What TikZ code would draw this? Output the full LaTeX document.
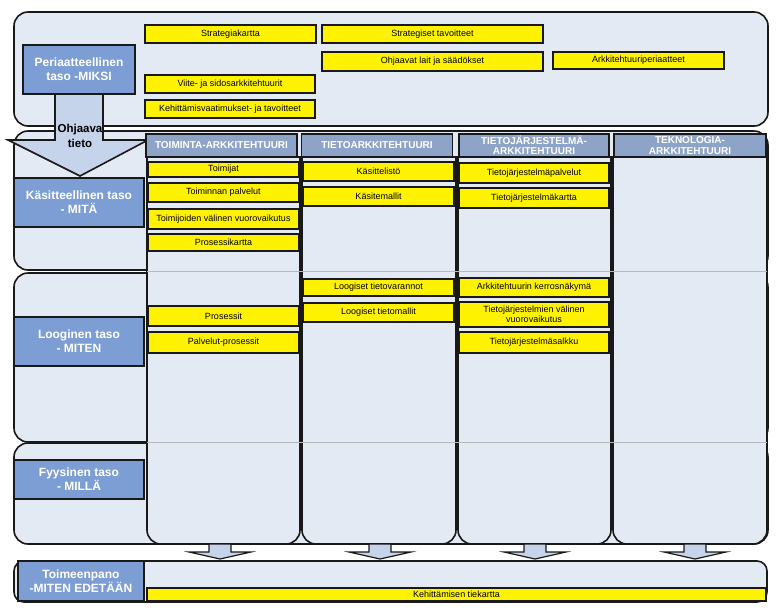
\documentclass[tikz,border=0pt]{standalone}
\usepackage{fontspec}
\setmainfont{Liberation Sans}
\definecolor{bandfill}{RGB}{227,234,244}
\definecolor{levelblue}{RGB}{124,158,212}
\definecolor{headblue}{RGB}{141,163,199}
\definecolor{arrowfill}{RGB}{197,212,234}
\definecolor{edge}{RGB}{25,25,25}
\tikzset{
  band/.style={draw=edge,line width=1.6pt,fill=bandfill,rounded corners=14pt},
  colbody/.style={draw=edge,line width=1.6pt,fill=bandfill},
  level/.style={draw=edge,line width=1.6pt,fill=levelblue,text=white,align=center,inner sep=0pt,
    font=\bfseries\fontsize{12}{14}\selectfont},
  colhead/.style={draw=edge,line width=1.4pt,fill=headblue,text=white,align=center,inner sep=0pt,
    minimum height=23,font=\bfseries\fontsize{10}{10.5}\selectfont},
  ybox/.style={draw=edge,line width=1.6pt,fill=yellow,align=center,inner sep=0pt,
    font=\fontsize{9}{10}\selectfont},
}
\begin{document}
\begin{tikzpicture}[x=1pt,y=-1pt]
\useasboundingbox (0,0) rectangle (781,614);
% layer bands
\draw[band] (14,12) rectangle (768,126);
\draw[band] (14,131) rectangle (768,270);
\draw[band] (14,273) rectangle (768,442);
\draw[band] (14,443) rectangle (768,544);
\draw[band,rounded corners=10pt] (14,561) rectangle (767,602);
% columns
\foreach \a/\b in {147/300,302/456,458/611,613/767}{
  \draw[colbody] (\a,157) -- (\a,530) arc[start angle=180,end angle=90,radius=14]
    -- (\b-14,544) arc[start angle=90,end angle=0,radius=14] -- (\b,157) -- cycle;}
\foreach \y in {271.5,442.5}{\draw[gray!55,line width=1pt] (147,\y)--(767,\y);}
% guiding arrow
\draw[edge,line width=1.6pt,fill=arrowfill] (55,94) -- (103,94) -- (103,140) -- (148,140)
  -- (80,176) -- (8,140) -- (55,140) -- cycle;
\node[font=\bfseries\fontsize{11.5}{15}\selectfont,align=center] (ohjaava) at (80,136) {Ohjaava\\tieto};
% down arrows
\foreach \x in {220,380,535,695}{
  \draw[edge,line width=1.2pt,fill=arrowfill] (\x-11,544) -- (\x+11,544) -- (\x+11,552) -- (\x+31,552)
    -- (\x,559) -- (\x-31,552) -- (\x-11,552) -- cycle;}
% level labels
\node[level,minimum width=112,minimum height=49] (miksi) at (79,69.5) {Periaatteellinen\\taso -MIKSI};
\node[level,minimum width=130,minimum height=49] (mita) at (79,202.5) {Käsitteellinen taso\\- MITÄ};
\node[level,minimum width=130,minimum height=49] (miten) at (79,341.5) {Looginen taso\\- MITEN};
\node[level,minimum width=130,minimum height=39] (milla) at (79,479.5) {Fyysinen taso\\- MILLÄ};
\node[level,minimum width=126,minimum height=40] (toimeenpano) at (81,581) {Toimeenpano\\-MITEN EDETÄÄN};
% column heads
\node[colhead,minimum width=151] (toiminta) at (221.5,145.5) {TOIMINTA-ARKKITEHTUURI};
\node[colhead,minimum width=151] (tieto) at (377,145.5) {TIETOARKKITEHTUURI};
\node[colhead,minimum width=150] (tietojarj) at (534,145.5) {TIETOJÄRJESTELMÄ-\\ARKKITEHTUURI};
\node[colhead,minimum width=152] (teknologia) at (690,145.5) {TEKNOLOGIA-\\ARKKITEHTUURI};
% top layer
\node[ybox,minimum width=171,minimum height=18] (strategiakartta) at (230.5,34) {Strategiakartta};
\node[ybox,minimum width=221,minimum height=18] (tavoitteet) at (432.5,34) {Strategiset tavoitteet};
\node[ybox,minimum width=221,minimum height=19] (lait) at (432.5,61.5) {Ohjaavat lait ja säädökset};
\node[ybox,minimum width=171,minimum height=17] (periaatteet) at (638.5,60.5) {Arkkitehtuuriperiaatteet};
\node[ybox,minimum width=170,minimum height=18] (viite) at (230,84) {Viite- ja sidosarkkitehtuurit};
\node[ybox,minimum width=170,minimum height=18] (vaatimukset) at (230,109) {Kehittämisvaatimukset- ja tavoitteet};
% toiminta column
\node[ybox,minimum width=150,minimum height=15] (toimijat) at (223.5,169.5) {Toimijat};
\node[ybox,minimum width=150,minimum height=19] (tpalvelut) at (223.5,192.5) {Toiminnan palvelut};
\node[ybox,minimum width=150,minimum height=20] (tvuoro) at (223.5,219) {Toimijoiden välinen vuorovaikutus};
\node[ybox,minimum width=150,minimum height=17] (pkartta) at (223.5,242.5) {Prosessikartta};
\node[ybox,minimum width=150,minimum height=20] (prosessit) at (223.5,316) {Prosessit};
\node[ybox,minimum width=150,minimum height=21] (pprosessit) at (223.5,342.5) {Palvelut-prosessit};
% tieto column
\node[ybox,minimum width=151,minimum height=19] (kasittelisto) at (378.5,171.5) {Käsittelistö};
\node[ybox,minimum width=151,minimum height=19] (kasitemallit) at (378.5,196.5) {Käsitemallit};
\node[ybox,minimum width=151,minimum height=17] (varannot) at (378.5,287.5) {Loogiset tietovarannot};
\node[ybox,minimum width=151,minimum height=19] (tietomallit) at (378.5,312.5) {Loogiset tietomallit};
% tietojarjestelma column
\node[ybox,minimum width=150,minimum height=20] (tjpalvelut) at (534,173) {Tietojärjestelmäpalvelut};
\node[ybox,minimum width=150,minimum height=20] (tjkartta) at (534,198) {Tietojärjestelmäkartta};
\node[ybox,minimum width=150,minimum height=19] (kerros) at (534,287.5) {Arkkitehtuurin kerrosnäkymä};
\node[ybox,minimum width=150,minimum height=25] (tjvuoro) at (534,314.5) {Tietojärjestelmien välinen\\vuorovaikutus};
\node[ybox,minimum width=150,minimum height=21] (salkku) at (534,342.5) {Tietojärjestelmäsalkku};
% roadmap
\node[ybox,minimum width=619,minimum height=13] (tiekartta) at (456.5,594.5) {Kehittämisen tiekartta};
\end{tikzpicture}
\end{document}
